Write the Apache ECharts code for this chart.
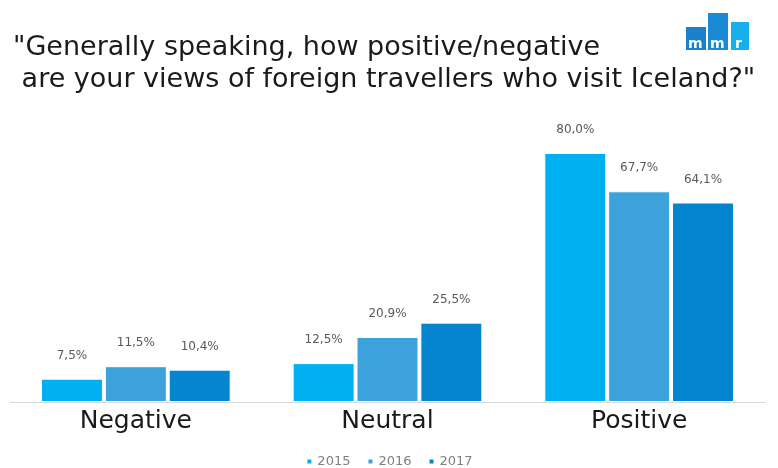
<!DOCTYPE html>
<html>
<head>
<meta charset="utf-8">
<script src="https://cdn.jsdelivr.net/npm/echarts@6/dist/echarts.min.js"></script>
<style>
  html, body { margin: 0; padding: 0; background: #fff; }
  #chart { width: 778px; height: 468px; }
</style>
</head>
<body>
<div id="chart"></div>
<script>
// Data
const categories = ['Negative', 'Neutral', 'Positive'];
const years = ['2015', '2016', '2017'];
const values2015 = [7.5, 12.5, 80.0];
const values2016 = [11.5, 20.9, 67.7];
const values2017 = [10.4, 25.5, 64.1];

const colors = ['#00b0f0', '#3da2db', '#0585d0'];
const allValues = [values2015, values2016, values2017];

function formatPct(v) {
  return v.toFixed(1).replace('.', ',') + '%';
}

const chart = echarts.init(document.getElementById('chart'));

const series = years.map((year, i) => ({
  name: year,
  type: 'bar',
  data: allValues[i],
  barWidth: 62,
  barGap: '3%',
  itemStyle: { color: colors[i], borderColor: '#fff', borderWidth: 1 },
  label: {
    show: true,
    position: 'top',
    distance: 17,
    color: '#595959',
    fontSize: 12,
    fontFamily: 'DejaVu Sans',
    formatter: (p) => formatPct(p.value),
  },
}));

const logoFont = 'bold 14px "DejaVu Sans"';

const option = {
  backgroundColor: '#fff',
  animation: false,
  title: {
    text: '"Generally speaking, how positive/negative\n are your views of foreign travellers who visit Iceland?"',
    left: 8,
    top: 27,
    textStyle: {
      fontFamily: 'DejaVu Sans',
      fontWeight: 'normal',
      fontSize: 27,
      lineHeight: 32,
      color: '#1a1a1a',
    },
  },
  graphic: [
    { type: 'rect', shape: { x: 686, y: 27, width: 20, height: 23 }, style: { fill: '#1a80cc' } },
    { type: 'rect', shape: { x: 708, y: 13, width: 20, height: 37 }, style: { fill: '#1b8ad6' } },
    { type: 'rect', shape: { x: 731, y: 22, width: 18, height: 28 }, style: { fill: '#17b0ec' } },
    { type: 'text', x: 688, y: 37, style: { text: 'm', fill: '#fff', font: logoFont } },
    { type: 'text', x: 710, y: 37, style: { text: 'm', fill: '#fff', font: logoFont } },
    { type: 'text', x: 735, y: 37, style: { text: 'r', fill: '#fff', font: logoFont } },
  ],
  legend: {
    top: 450,
    left: 'center',
    itemWidth: 6,
    itemHeight: 6,
    itemGap: 16,
    icon: 'rect',
    textStyle: { color: '#7f7f7f', fontSize: 13, fontFamily: 'DejaVu Sans' },
    data: years,
  },
  grid: { left: 10, right: 13, top: 153, bottom: 66 },
  xAxis: {
    type: 'category',
    data: categories,
    axisLine: { lineStyle: { color: '#d9d9d9' } },
    axisTick: { show: false },
    axisLabel: {
      color: '#1a1a1a',
      fontSize: 25,
      fontFamily: 'DejaVu Sans',
      margin: 7,
    },
  },
  yAxis: {
    type: 'value',
    min: 0,
    max: 80,
    show: false,
  },
  series,
};

chart.setOption(option);
</script>
</body>
</html>
